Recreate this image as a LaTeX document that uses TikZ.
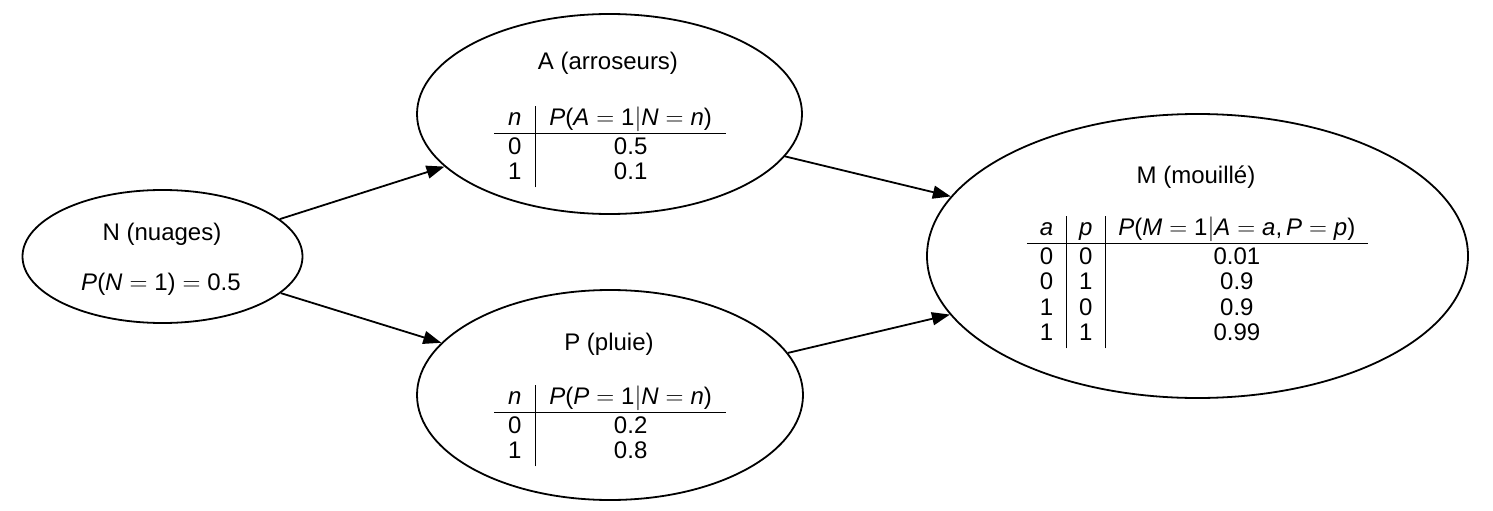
\documentclass[tikz,border=0pt]{standalone}
\usepackage{fontspec}
\setmainfont{Liberation Sans}
\usetikzlibrary{shapes.geometric,arrows.meta}
\newcommand\mv[1]{\textit{#1}}
\newcommand\eq{$\;=\;$}
\newcommand\vbr{$|$}
\newcommand\fr{\rule{0pt}{20.5pt}}
\setlength\tabcolsep{14pt}
\setlength\arrayrulewidth{1pt}
\begin{document}
\begin{tikzpicture}[x=1pt,y=-1pt,
  var/.style={ellipse, draw, line width=1.8pt, inner sep=0pt},
  txt/.style={anchor=base, inner sep=0pt, font=\fontsize{24}{25.5}\selectfont},
  edge/.style={line width=1.8pt, -{Triangle[length=18pt,width=13pt]}}]
\useasboundingbox (0,0) rectangle (1493,511);
% ellipses
\node[var, minimum width=280pt, minimum height=133pt] (N) at (162.5,256.5) {};
\node[var, minimum width=385pt, minimum height=200pt] (A) at (609.5,114) {};
\node[var, minimum width=386pt, minimum height=210pt] (P) at (610,395) {};
\node[var, minimum width=541pt, minimum height=284pt] (M) at (1197.5,256) {};
% N
\node[txt] (Nt) at (162,240) {N (nuages)};
\node[txt] (Nf) at (161,290) {\mv{P}(\mv{N}\eq 1)\eq 0.5};
% A
\node[txt] (At) at (608,70) {A (arroseurs)};
\node[txt] (Ab) at (610,125) {\begin{tabular}[t]{c|c}
\textit{n} & \mv{P}(\mv{A}\eq 1\vbr\mv{N}\eq\mv{n})\\\hline
\fr 0 & 0.5\\
1 & 0.1
\end{tabular}};
% P
\node[txt] (Pt) at (609,350) {P (pluie)};
\node[txt] (Pb) at (610,404) {\begin{tabular}[t]{c|c}
\textit{n} & \mv{P}(\mv{P}\eq 1\vbr\mv{N}\eq\mv{n})\\\hline
\fr 0 & 0.2\\
1 & 0.8
\end{tabular}};
% M
\node[txt] (Mt) at (1196,183) {M (mouillé)};
\node[txt] (Mb) at (1197.5,235) {\setlength\tabcolsep{13pt}\begin{tabular}[t]{c|c|c}
\textit{a} & \textit{p} & \mv{P}(\mv{M}\eq 1\vbr\mv{A}\eq\mv{a},\,\mv{P}\eq\mv{p})\\\hline
\fr 0 & 0 & 0.01\\
0 & 1 & 0.9\\
1 & 0 & 0.9\\
1 & 1 & 0.99
\end{tabular}};
% edges
\draw[edge] (N) -- (A);
\draw[edge] (N) -- (P);
\draw[edge] (A) -- (M);
\draw[edge] (P) -- (M);
\end{tikzpicture}
\end{document}
